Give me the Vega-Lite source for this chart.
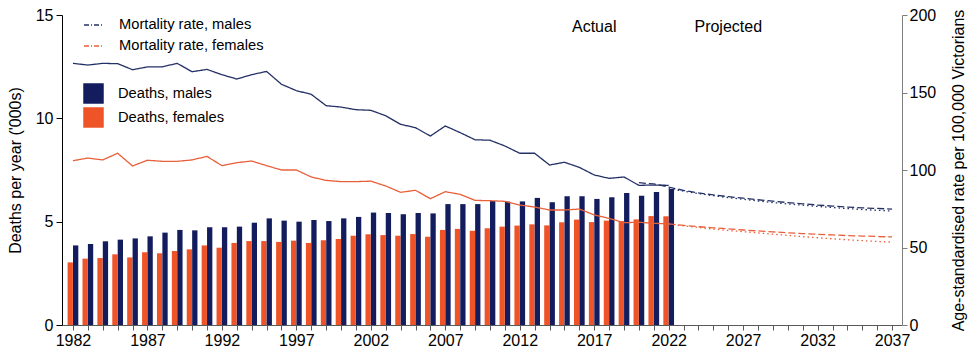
{
  "$schema": "https://vega.github.io/schema/vega-lite/v6.json",
  "width": 840,
  "height": 310,
  "autosize": {"type": "none"},
  "padding": {"left": 62, "top": 15, "right": 71, "bottom": 30},
  "background": "white",
  "config": {
    "view": {"stroke": null},
    "font": "Liberation Sans",
    "axis": {"labelFont": "Liberation Sans", "titleFont": "Liberation Sans", "labelFontSize": 16, "titleFontSize": 16, "titleFontWeight": "normal", "labelColor": "#000", "titleColor": "#000", "grid": false},
    "legend": {"labelFont": "Liberation Sans", "labelFontSize": 14.7, "labelColor": "#000", "padding": 0}
  },
  "datasets": {
    "deaths": [
      {"year":1982,"Deaths, males":3.85,"Deaths, females":3.03},
      {"year":1983,"Deaths, males":3.92,"Deaths, females":3.21},
      {"year":1984,"Deaths, males":4.05,"Deaths, females":3.24},
      {"year":1985,"Deaths, males":4.13,"Deaths, females":3.42},
      {"year":1986,"Deaths, males":4.19,"Deaths, females":3.27},
      {"year":1987,"Deaths, males":4.29,"Deaths, females":3.52},
      {"year":1988,"Deaths, males":4.47,"Deaths, females":3.47},
      {"year":1989,"Deaths, males":4.60,"Deaths, females":3.58},
      {"year":1990,"Deaths, males":4.58,"Deaths, females":3.66},
      {"year":1991,"Deaths, males":4.73,"Deaths, females":3.85},
      {"year":1992,"Deaths, males":4.73,"Deaths, females":3.74},
      {"year":1993,"Deaths, males":4.76,"Deaths, females":3.97},
      {"year":1994,"Deaths, males":4.95,"Deaths, females":4.06},
      {"year":1995,"Deaths, males":5.16,"Deaths, females":4.06},
      {"year":1996,"Deaths, males":5.05,"Deaths, females":4.02},
      {"year":1997,"Deaths, males":5.00,"Deaths, females":4.08},
      {"year":1998,"Deaths, males":5.08,"Deaths, females":3.97},
      {"year":1999,"Deaths, males":5.03,"Deaths, females":4.10},
      {"year":2000,"Deaths, males":5.16,"Deaths, females":4.16},
      {"year":2001,"Deaths, males":5.23,"Deaths, females":4.32},
      {"year":2002,"Deaths, males":5.44,"Deaths, females":4.39},
      {"year":2003,"Deaths, males":5.42,"Deaths, females":4.35},
      {"year":2004,"Deaths, males":5.36,"Deaths, females":4.32},
      {"year":2005,"Deaths, males":5.42,"Deaths, females":4.40},
      {"year":2006,"Deaths, males":5.40,"Deaths, females":4.27},
      {"year":2007,"Deaths, males":5.85,"Deaths, females":4.60},
      {"year":2008,"Deaths, males":5.85,"Deaths, females":4.65},
      {"year":2009,"Deaths, males":5.85,"Deaths, females":4.56},
      {"year":2010,"Deaths, males":6.00,"Deaths, females":4.68},
      {"year":2011,"Deaths, males":5.97,"Deaths, females":4.76},
      {"year":2012,"Deaths, males":5.98,"Deaths, females":4.81},
      {"year":2013,"Deaths, males":6.15,"Deaths, females":4.87},
      {"year":2014,"Deaths, males":5.94,"Deaths, females":4.82},
      {"year":2015,"Deaths, males":6.23,"Deaths, females":4.97},
      {"year":2016,"Deaths, males":6.23,"Deaths, females":5.10},
      {"year":2017,"Deaths, males":6.10,"Deaths, females":4.98},
      {"year":2018,"Deaths, males":6.18,"Deaths, females":5.05},
      {"year":2019,"Deaths, males":6.39,"Deaths, females":5.03},
      {"year":2020,"Deaths, males":6.26,"Deaths, females":5.11},
      {"year":2021,"Deaths, males":6.44,"Deaths, females":5.27},
      {"year":2022,"Deaths, males":6.58,"Deaths, females":5.26}
    ],
    "rates": [
      {"year":1982,"type":"Actual","Mortality rate, males":168.8,"Mortality rate, females":106.0},
      {"year":1983,"type":"Actual","Mortality rate, males":167.7,"Mortality rate, females":107.7},
      {"year":1984,"type":"Actual","Mortality rate, males":168.8,"Mortality rate, females":106.5},
      {"year":1985,"type":"Actual","Mortality rate, males":168.6,"Mortality rate, females":110.8},
      {"year":1986,"type":"Actual","Mortality rate, males":164.7,"Mortality rate, females":102.6},
      {"year":1987,"type":"Actual","Mortality rate, males":166.5,"Mortality rate, females":106.3},
      {"year":1988,"type":"Actual","Mortality rate, males":166.6,"Mortality rate, females":105.6},
      {"year":1989,"type":"Actual","Mortality rate, males":168.8,"Mortality rate, females":105.6},
      {"year":1990,"type":"Actual","Mortality rate, males":163.4,"Mortality rate, females":106.5},
      {"year":1991,"type":"Actual","Mortality rate, males":164.9,"Mortality rate, females":108.8},
      {"year":1992,"type":"Actual","Mortality rate, males":161.5,"Mortality rate, females":102.8},
      {"year":1993,"type":"Actual","Mortality rate, males":158.7,"Mortality rate, females":104.7},
      {"year":1994,"type":"Actual","Mortality rate, males":161.5,"Mortality rate, females":105.8},
      {"year":1995,"type":"Actual","Mortality rate, males":163.6,"Mortality rate, females":102.8},
      {"year":1996,"type":"Actual","Mortality rate, males":155.3,"Mortality rate, females":100.0},
      {"year":1997,"type":"Actual","Mortality rate, males":151.2,"Mortality rate, females":100.0},
      {"year":1998,"type":"Actual","Mortality rate, males":148.8,"Mortality rate, females":95.5},
      {"year":1999,"type":"Actual","Mortality rate, males":141.5,"Mortality rate, females":93.3},
      {"year":2000,"type":"Actual","Mortality rate, males":140.6,"Mortality rate, females":92.5},
      {"year":2001,"type":"Actual","Mortality rate, males":138.9,"Mortality rate, females":92.5},
      {"year":2002,"type":"Actual","Mortality rate, males":138.5,"Mortality rate, females":92.8},
      {"year":2003,"type":"Actual","Mortality rate, males":135.0,"Mortality rate, females":89.7},
      {"year":2004,"type":"Actual","Mortality rate, males":129.5,"Mortality rate, females":85.6},
      {"year":2005,"type":"Actual","Mortality rate, males":127.3,"Mortality rate, females":86.9},
      {"year":2006,"type":"Actual","Mortality rate, males":121.9,"Mortality rate, females":81.5},
      {"year":2007,"type":"Actual","Mortality rate, males":128.4,"Mortality rate, females":86.0},
      {"year":2008,"type":"Actual","Mortality rate, males":124.1,"Mortality rate, females":84.3},
      {"year":2009,"type":"Actual","Mortality rate, males":119.5,"Mortality rate, females":80.4},
      {"year":2010,"type":"Actual","Mortality rate, males":119.2,"Mortality rate, females":80.2},
      {"year":2011,"type":"Actual","Mortality rate, males":115.5,"Mortality rate, females":79.8},
      {"year":2012,"type":"Actual","Mortality rate, males":110.8,"Mortality rate, females":77.4},
      {"year":2013,"type":"Actual","Mortality rate, males":110.8,"Mortality rate, females":76.1},
      {"year":2014,"type":"Actual","Mortality rate, males":103.2,"Mortality rate, females":74.2},
      {"year":2015,"type":"Actual","Mortality rate, males":105.0,"Mortality rate, females":74.2},
      {"year":2016,"type":"Actual","Mortality rate, males":101.7,"Mortality rate, females":74.8},
      {"year":2017,"type":"Actual","Mortality rate, males":96.8,"Mortality rate, females":71.0},
      {"year":2018,"type":"Actual","Mortality rate, males":94.6,"Mortality rate, females":68.8},
      {"year":2019,"type":"Actual","Mortality rate, males":95.5,"Mortality rate, females":66.0},
      {"year":2020,"type":"Actual","Mortality rate, males":90.1,"Mortality rate, females":66.3},
      {"year":2021,"type":"Actual","Mortality rate, males":90.3,"Mortality rate, females":65.6},
      {"year":2022,"type":"Actual","Mortality rate, males":90.1,"Mortality rate, females":65.2},
      {"year":2020,"type":"Projection A","Mortality rate, males":91.8},
      {"year":2021,"type":"Projection A","Mortality rate, males":91.0},
      {"year":2022,"type":"Projection A","Mortality rate, males":89.0,"Mortality rate, females":65.2},
      {"year":2023,"type":"Projection A","Mortality rate, males":86.8,"Mortality rate, females":64.3},
      {"year":2024,"type":"Projection A","Mortality rate, males":85.2,"Mortality rate, females":63.4},
      {"year":2025,"type":"Projection A","Mortality rate, males":83.9,"Mortality rate, females":62.7},
      {"year":2026,"type":"Projection A","Mortality rate, males":82.8,"Mortality rate, females":62.0},
      {"year":2027,"type":"Projection A","Mortality rate, males":81.8,"Mortality rate, females":61.3},
      {"year":2028,"type":"Projection A","Mortality rate, males":80.8,"Mortality rate, females":60.7},
      {"year":2029,"type":"Projection A","Mortality rate, males":79.9,"Mortality rate, females":60.1},
      {"year":2030,"type":"Projection A","Mortality rate, males":79.0,"Mortality rate, females":59.5},
      {"year":2031,"type":"Projection A","Mortality rate, males":78.2,"Mortality rate, females":59.0},
      {"year":2032,"type":"Projection A","Mortality rate, males":77.4,"Mortality rate, females":58.5},
      {"year":2033,"type":"Projection A","Mortality rate, males":76.7,"Mortality rate, females":58.1},
      {"year":2034,"type":"Projection A","Mortality rate, males":76.1,"Mortality rate, females":57.7},
      {"year":2035,"type":"Projection A","Mortality rate, males":75.6,"Mortality rate, females":57.4},
      {"year":2036,"type":"Projection A","Mortality rate, males":75.2,"Mortality rate, females":57.1},
      {"year":2037,"type":"Projection A","Mortality rate, males":74.8,"Mortality rate, females":56.8},
      {"year":2022,"type":"Projection B","Mortality rate, males":88.0,"Mortality rate, females":65.2},
      {"year":2023,"type":"Projection B","Mortality rate, males":86.3,"Mortality rate, females":64.0},
      {"year":2024,"type":"Projection B","Mortality rate, males":84.8,"Mortality rate, females":62.9},
      {"year":2025,"type":"Projection B","Mortality rate, males":83.4,"Mortality rate, females":61.9},
      {"year":2026,"type":"Projection B","Mortality rate, males":82.2,"Mortality rate, females":61.0},
      {"year":2027,"type":"Projection B","Mortality rate, males":81.1,"Mortality rate, females":60.2},
      {"year":2028,"type":"Projection B","Mortality rate, males":80.0,"Mortality rate, females":59.4},
      {"year":2029,"type":"Projection B","Mortality rate, males":79.0,"Mortality rate, females":58.6},
      {"year":2030,"type":"Projection B","Mortality rate, males":78.1,"Mortality rate, females":57.8},
      {"year":2031,"type":"Projection B","Mortality rate, males":77.3,"Mortality rate, females":57.0},
      {"year":2032,"type":"Projection B","Mortality rate, males":76.5,"Mortality rate, females":56.3},
      {"year":2033,"type":"Projection B","Mortality rate, males":75.8,"Mortality rate, females":55.6},
      {"year":2034,"type":"Projection B","Mortality rate, males":75.1,"Mortality rate, females":55.0},
      {"year":2035,"type":"Projection B","Mortality rate, males":74.5,"Mortality rate, females":54.4},
      {"year":2036,"type":"Projection B","Mortality rate, males":74.0,"Mortality rate, females":53.9},
      {"year":2037,"type":"Projection B","Mortality rate, males":73.5,"Mortality rate, females":53.5}
    ],
    "notes": [
      {"year":2017,"level":14.2,"label":"Actual"},
      {"year":2026,"level":14.2,"label":"Projected"}
    ]
  },
  "encoding": {
    "x": {
      "field": "year", "type": "quantitative",
      "scale": {"domain": [1981.6, 2037.33], "nice": false, "zero": false},
      "axis": {
        "title": null,
        "values": [1982,1983,1984,1985,1986,1987,1988,1989,1990,1991,1992,1993,1994,1995,1996,1997,1998,1999,2000,2001,2002,2003,2004,2005,2006,2007,2008,2009,2010,2011,2012,2013,2014,2015,2016,2017,2018,2019,2020,2021,2022,2023,2024,2025,2026,2027,2028,2029,2030,2031,2032,2033,2034,2035,2036,2037],
        "labelExpr": "(datum.value - 1982) % 5 === 0 ? '' + datum.value : ''",
        "labelOverlap": false, "labelFlush": false, "labelBound": false,
        "domainColor": "#595959", "tickColor": "#595959", "tickSize": 5, "labelPadding": 2
      }
    }
  },
  "layer": [
    {
      "data": {"name": "deaths"},
      "transform": [
        {"fold": ["Deaths, males", "Deaths, females"], "as": ["series", "value"]},
        {"filter": "datum.series === 'Deaths, females'"}
      ],
      "mark": {"type": "bar", "width": 5.3, "xOffset": -2.7},
      "encoding": {
        "y": {"field": "value", "type": "quantitative", "scale": {"domain": [0, 15], "nice": false},
          "axis": {"orient": "left", "values": [0, 5, 10, 15], "title": "Deaths per year ('000s)", "domainColor": "#000", "tickColor": "#000", "tickSize": 6, "labelPadding": 3, "titlePadding": 12}},
        "color": {"field": "series", "type": "nominal",
          "scale": {"domain": ["Deaths, males", "Deaths, females"], "range": ["#131d5e", "#ee5428"]},
          "legend": {"orient": "none", "legendX": 21, "legendY": 68, "title": null, "symbolType": "square", "symbolSize": 420, "symbolStrokeWidth": 0, "labelOffset": 14, "rowPadding": 3}}
      }
    },
    {
      "data": {"name": "deaths"},
      "transform": [
        {"fold": ["Deaths, males", "Deaths, females"], "as": ["series", "value"]},
        {"filter": "datum.series === 'Deaths, males'"}
      ],
      "mark": {"type": "bar", "width": 5.3, "xOffset": 2.7},
      "encoding": {
        "y": {"field": "value", "type": "quantitative", "scale": {"domain": [0, 15], "nice": false}, "axis": null},
        "color": {"field": "series", "type": "nominal",
          "scale": {"domain": ["Deaths, males", "Deaths, females"], "range": ["#131d5e", "#ee5428"]},
          "legend": {"orient": "none", "legendX": 21, "legendY": 68, "title": null, "symbolType": "square", "symbolSize": 420, "symbolStrokeWidth": 0, "labelOffset": 14, "rowPadding": 3}}
      }
    },
    {
      "data": {"name": "rates"},
      "transform": [
        {"fold": ["Mortality rate, males", "Mortality rate, females"], "as": ["series", "value"]},
        {"filter": "isValid(datum.value)"}
      ],
      "mark": {"type": "line", "strokeWidth": 1.3},
      "encoding": {
        "y": {"field": "value", "type": "quantitative", "scale": {"domain": [0, 200], "nice": false},
          "axis": {"orient": "right", "values": [0, 50, 100, 150, 200], "title": "Age-standardised rate per 100,000 Victorians", "titleAngle": 270, "domainColor": "#7f7f7f", "tickColor": "#7f7f7f", "tickSize": 5, "labelPadding": 2, "titlePadding": 31}},
        "stroke": {"field": "series", "type": "nominal",
          "scale": {"domain": ["Mortality rate, males", "Mortality rate, females"], "range": ["#243166", "#e8603a"]},
          "legend": {"orient": "none", "legendX": 21, "legendY": -1, "title": null, "symbolType": "stroke", "symbolSize": 400, "symbolStrokeWidth": 1.5, "symbolDash": [5, 2, 1, 2], "labelOffset": 14, "rowPadding": 3}},
        "strokeDash": {"field": "type", "type": "nominal",
          "scale": {"domain": ["Actual", "Projection A", "Projection B"], "range": [[1, 0], [7, 3], [1.5, 3]]},
          "legend": null}
      }
    },
    {
      "data": {"name": "notes"},
      "mark": {"type": "text", "fontSize": 16, "font": "Liberation Sans", "align": "center", "baseline": "alphabetic", "color": "#000"},
      "encoding": {
        "y": {"field": "level", "type": "quantitative", "scale": {"domain": [0, 15], "nice": false}, "axis": null},
        "text": {"field": "label"}
      }
    }
  ],
  "resolve": {"scale": {"y": "independent"}}
}
